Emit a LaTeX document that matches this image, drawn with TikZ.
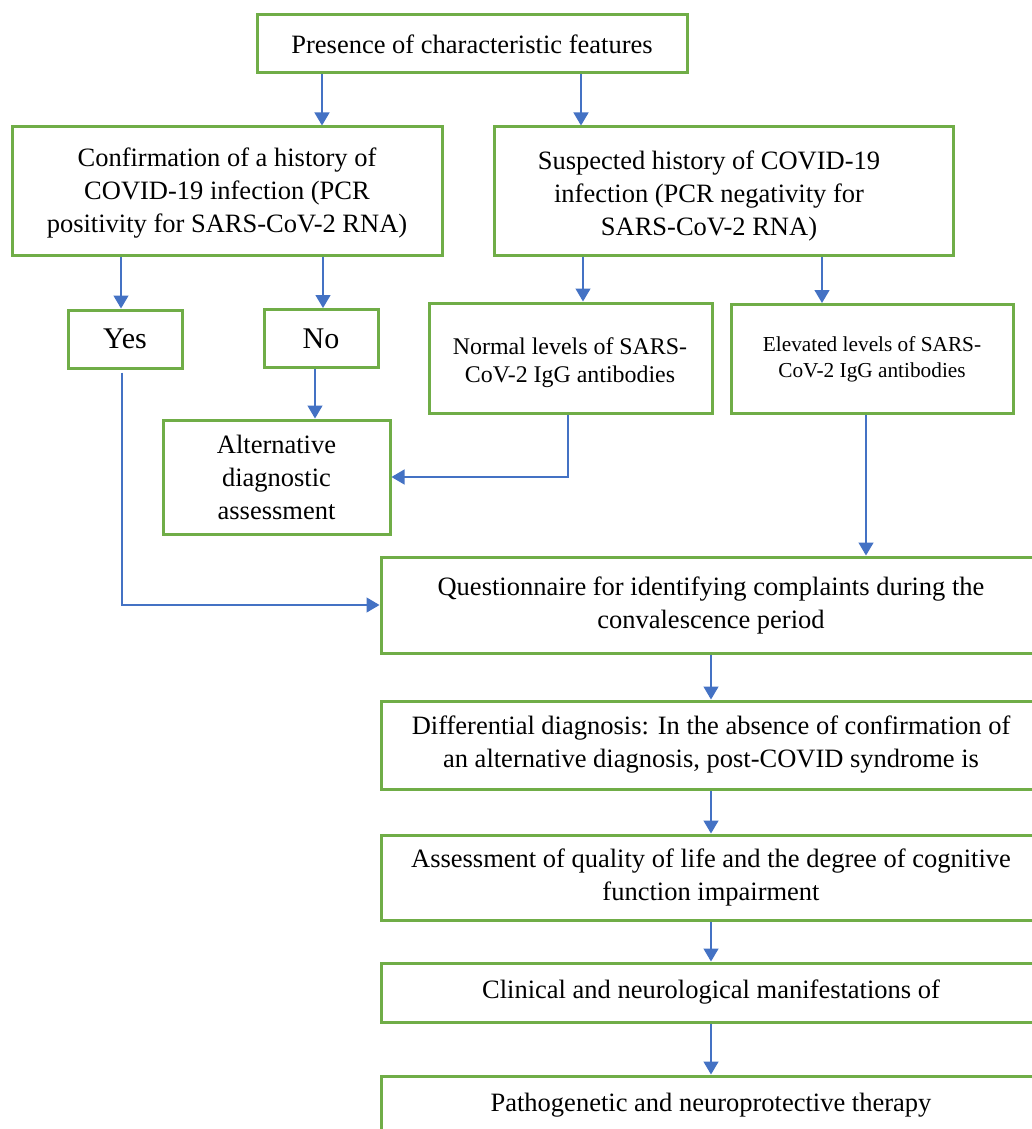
\documentclass[tikz,border=0pt]{standalone}
\usepackage{fontspec}
\setmainfont{Liberation Serif}
\usetikzlibrary{arrows.meta}
\definecolor{boxgreen}{HTML}{70AD47}
\definecolor{arrblue}{HTML}{4472C4}
\begin{document}
\begin{tikzpicture}[x=1pt,y=-1pt,
  box/.style={draw=boxgreen, line width=3pt, fill=white, align=center, inner sep=0pt,
              font=\fontsize{26.5}{33}\selectfont},
  txt/.style={align=center, inner sep=0pt, font=\fontsize{26.5}{33}\selectfont},
  yesno/.style={box, font=\fontsize{30}{36}\selectfont, minimum width=114pt, minimum height=58pt},
  conn/.style={draw=arrblue, line width=1.4pt, -{Triangle[width=15pt,length=13pt]}}]
\path[use as bounding box, fill=white] (0,0) rectangle (1032,1129);
\clip (0,0) rectangle (1032,1129);

% x positions of the connectors
\coordinate (c1) at (322,0);
\coordinate (c2) at (581,0);
\coordinate (c3) at (121,0);
\coordinate (c4) at (323,0);
\coordinate (c5) at (583,0);
\coordinate (c6) at (822,0);
\coordinate (c7) at (315,0);
\coordinate (c8) at (568,0);
\coordinate (c9) at (866,0);
\coordinate (c10) at (122,0);

\node[box, minimum width=430pt, minimum height=58pt] (top) at (472,44)
  {Presence of characteristic features};
\node[box, minimum width=430pt, minimum height=128pt] (conf) at (227,191)
  {};
\node[txt] (conftext) at (227,193)
  {Confirmation of a history of\\COVID-19 infection (PCR\\positivity for SARS-CoV-2 RNA)};
\node[box, minimum width=459pt, minimum height=128pt] (susp) at (723.5,191) {};
\node[txt] (susptext) at (709,196)
  {Suspected history of COVID-19\\infection (PCR negativity for\\SARS-CoV-2 RNA)};
\node[yesno] (yes) at (125,339) {Yes};
\node[yesno] (no) at (321,338.5) {No};
\node[box, minimum width=227pt, minimum height=114pt] (alt) at (276.5,477)
  {Alternative\\diagnostic\\assessment};
\node[box, minimum width=283pt, minimum height=110pt] (normal) at (570.5,358) {};
\node[txt, font=\fontsize{23.9}{28}\selectfont] (normaltext) at (570,363)
  {Normal levels of SARS-\\CoV-2 IgG antibodies};
\node[box, font=\fontsize{21.3}{26}\selectfont, minimum width=282pt, minimum height=109pt] (elev) at (872,359)
  {Elevated levels of SARS-\\CoV-2 IgG antibodies};

\node[box, minimum width=660pt, minimum height=96pt] (quest) at (711,605)
  {Questionnaire for identifying complaints during the\\convalescence period};
\node[box, minimum width=660pt, minimum height=88pt] (diff) at (711,745)
  {Differential diagnosis: In the absence of confirmation of\\an alternative diagnosis, post-COVID syndrome is};
\node[box, minimum width=660pt, minimum height=85pt] (assess) at (711,877.5)
  {Assessment of quality of life and the degree of cognitive\\function impairment};
\node[box, minimum width=660pt, minimum height=59pt] (clin) at (711,992.5)
  {Clinical and neurological manifestations of};
\node[box, minimum width=660pt, minimum height=59pt] (path) at (711,1105.5)
  {Pathogenetic and neuroprotective therapy};

\draw[conn] (top.south -| c1) -- (conf.north -| c1);
\draw[conn] (top.south -| c2) -- (susp.north -| c2);
\draw[conn] (conf.south -| c3) -- (yes.north -| c3);
\draw[conn] (conf.south -| c4) -- (no.north -| c4);
\draw[conn] (susp.south -| c5) -- (normal.north -| c5);
\draw[conn] (susp.south -| c6) -- (elev.north -| c6);
\draw[conn] (no.south -| c7) -- (alt.north -| c7);
\draw[conn] (normal.south -| c8) |- (alt.east);
\draw[conn] (elev.south -| c9) -- (quest.north -| c9);
\draw[conn] ([yshift=-3pt]yes.south -| c10) |- (quest.west);
\draw[conn] (quest.south) -- (diff.north);
\draw[conn] (diff.south) -- (assess.north);
\draw[conn] (assess.south) -- (clin.north);
\draw[conn] (clin.south) -- (path.north);
\end{tikzpicture}
\end{document}
